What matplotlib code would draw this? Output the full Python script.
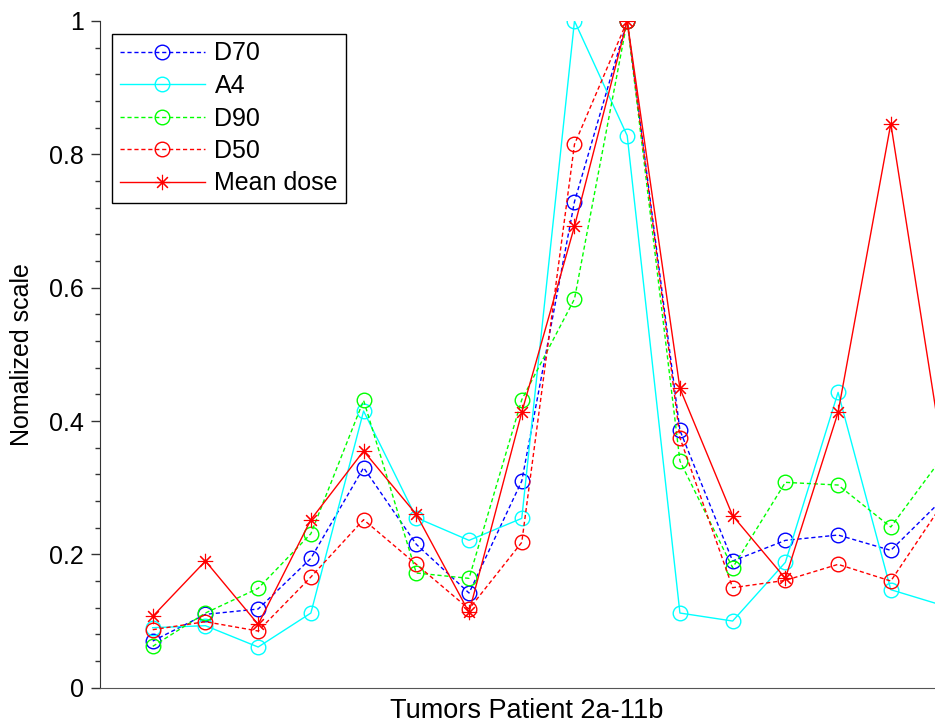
import matplotlib
matplotlib.use("Agg")
import matplotlib.pyplot as plt
from matplotlib.ticker import MultipleLocator, FuncFormatter

plt.rcParams['font.family'] = ['Liberation Sans', 'DejaVu Sans']

x = list(range(1, 17))
D70 = [0.070, 0.110, 0.118, 0.194, 0.330, 0.215, 0.142, 0.310, 0.729, 1.0, 0.386, 0.190, 0.221, 0.229, 0.206, 0.284]
A4 = [0.090, 0.093, 0.061, 0.112, 0.415, 0.255, 0.221, 0.254, 1.0, 0.828, 0.112, 0.100, 0.188, 0.443, 0.147, 0.123]
D90 = [0.062, 0.112, 0.149, 0.231, 0.431, 0.172, 0.164, 0.432, 0.583, 1.0, 0.340, 0.180, 0.308, 0.304, 0.241, 0.348]
D50 = [0.087, 0.099, 0.085, 0.166, 0.252, 0.185, 0.118, 0.218, 0.815, 1.0, 0.375, 0.150, 0.161, 0.185, 0.160, 0.278]
MEAN = [0.107, 0.190, 0.095, 0.252, 0.355, 0.260, 0.113, 0.413, 0.692, 1.0, 0.449, 0.258, 0.164, 0.413, 0.846, 0.343]

W, H = 935, 726
fig = plt.figure(figsize=(W / 100, H / 100), dpi=100)
ax = fig.add_axes([100 / W, (H - 687.7) / H, 17 * 52.72 / W, 666.7 / H])

dash = (0, (3, 2))
ms = 10.5
ax.plot(x, D70, color='#0000ff', ls=dash, lw=1, marker='o', ms=ms, mfc='none', mew=1, label='D70')
ax.plot(x, A4, color='#00ffff', ls='-', lw=1, marker='o', ms=ms, mfc='none', mew=1, label='A4')
ax.plot(x, D90, color='#00ff00', ls=dash, lw=1, marker='o', ms=ms, mfc='none', mew=1, label='D90')
ax.plot(x, D50, color='#ff0000', ls=dash, lw=1, marker='o', ms=ms, mfc='none', mew=1, label='D50')
ax.plot(x, MEAN, color='#ff0000', ls='-', lw=1, marker=(8, 2, 0), ms=11, mew=0.8, label='Mean dose')

ax.set_xlim(0, 17)
ax.set_ylim(0, 1)
ax.set_xticks([])
ax.yaxis.set_major_locator(MultipleLocator(0.2))
ax.yaxis.set_minor_locator(MultipleLocator(0.04))
ax.yaxis.set_major_formatter(FuncFormatter(lambda v, p: '%g' % round(v, 2)))
ax.tick_params(axis='y', which='major', direction='out', length=6.5, width=1, labelsize=18, pad=5, color='#333333')
ax.tick_params(axis='y', which='minor', direction='out', length=3.6, width=1, color='#333333')
ax.spines['top'].set_visible(False)
ax.spines['right'].set_visible(False)
ax.spines['left'].set_color('#333333')
ax.spines['bottom'].set_color('#555555')

fig.text(527 / W, 1 - 711 / H, 'Tumors Patient 2a-11b', ha='center', va='center', fontsize=19.5)
fig.text(22 / W, 1 - 355 / H, 'Nomalized scale', ha='center', va='center', rotation=90, fontsize=18)

leg = ax.legend(loc='upper left', bbox_to_anchor=(112 / W, 1 - 34 / H), bbox_transform=fig.transFigure,
                borderaxespad=0, fontsize=18, handlelength=3.4, labelspacing=0.34, fancybox=False,
                framealpha=1, edgecolor='black', borderpad=0.3, handletextpad=0.4)
leg.get_frame().set_linewidth(1)

fig.savefig('out.png', dpi=100)
